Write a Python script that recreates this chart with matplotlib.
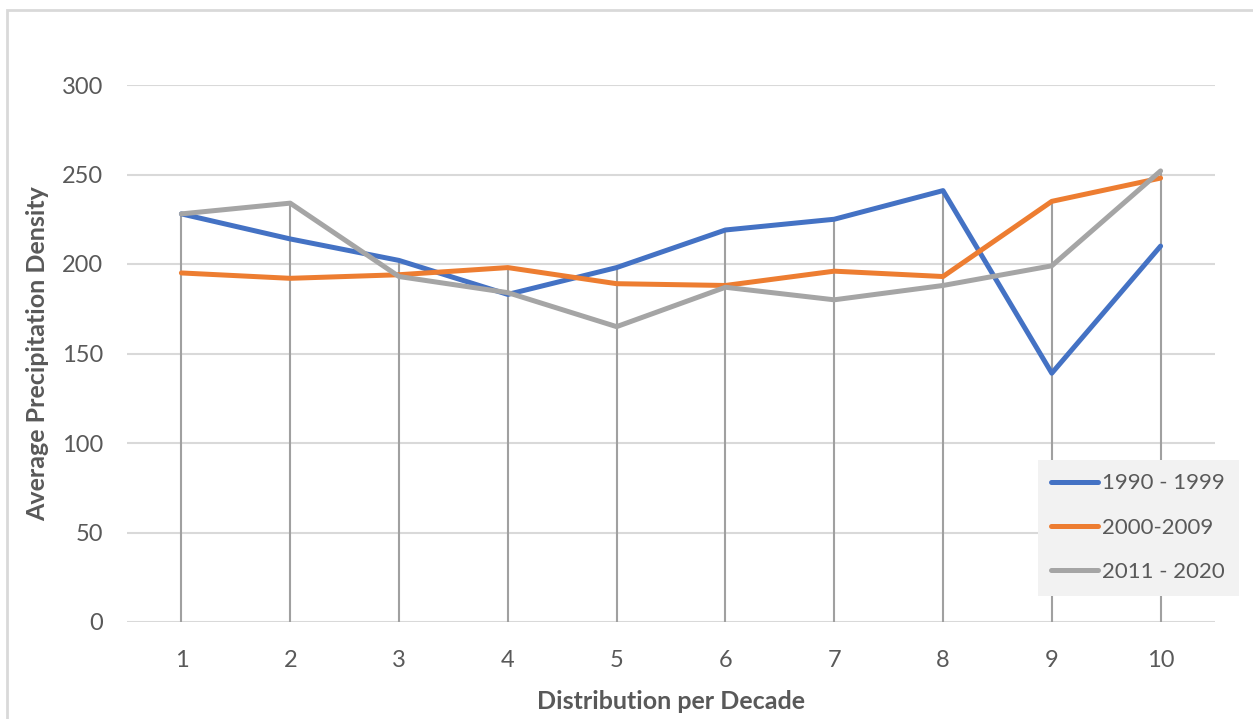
import numpy as np
import matplotlib
matplotlib.use("Agg")
import matplotlib.pyplot as plt
from matplotlib.patches import Rectangle

#---------------- data ----------------
cats = [1, 2, 3, 4, 5, 6, 7, 8, 9, 10]
s1990 = [228, 214, 202, 183, 198, 219, 225, 241, 139, 210]
s2000 = [195, 192, 194, 198, 189, 188, 196, 193, 235, 248]
s2011 = [228, 234, 193, 184, 165, 187, 180, 188, 199, 252]
names = ["1990 - 1999", "2000-2009", "2011 - 2020"]
colors = ["#4472C4", "#ED7D31", "#A5A5A5"]
yticks = [0, 50, 100, 150, 200, 250, 300]

plt.rcParams['font.family'] = ['Lato', 'DejaVu Sans']
txt = "#595959"

fig = plt.figure(figsize=(12.53, 7.19), dpi=100)
ax = fig.add_axes([127/1253, 1-622/719, (1215-127)/1253, (622-85)/719])

# chart border
fig.patches.append(Rectangle((7/1253, -0.1), 1.2, 1-10/719+0.1, transform=fig.transFigure,
                             fill=False, ec="#D9D9D9", lw=2))

x = np.array(cats)
allv = np.vstack([s1990, s2000, s2011])
# drop lines from the highest value down to the axis
ax.vlines(x, 0, allv.max(axis=0), color="#A0A0A0", lw=1.5, zorder=2)

for vals, nm, c in zip([s1990, s2000, s2011], names, colors):
    ax.plot(x, vals, color=c, lw=3.6, label=nm, solid_capstyle='round',
            solid_joinstyle='round', zorder=3)

ax.set_xlim(0.5, 10.5)
ax.set_ylim(0, 300)
ax.set_xticks(x)
ax.set_yticks(yticks)
ax.tick_params(length=0, labelsize=17, colors=txt)
ax.tick_params(axis='x', pad=20)
ax.tick_params(axis='y', pad=17)
ax.grid(axis='y', color="#D9D9D9", lw=1.5, zorder=0)
ax.set_axisbelow(True)
for sp in ax.spines.values():
    sp.set_visible(False)

ax.set_ylabel("Average Precipitation Density", fontsize=18, fontweight='bold', color=txt, labelpad=9)
ax.set_xlabel("Distribution per Decade", fontsize=18, fontweight='bold', color=txt, labelpad=14)

leg = fig.legend(loc='upper left', bbox_to_anchor=(1038/1253, 1-460/719), fontsize=16, frameon=True,
                 fancybox=False, facecolor="#F2F2F2", edgecolor="#F2F2F2", framealpha=1,
                 handlelength=2.1, labelspacing=1.1, borderpad=0.6, handletextpad=0.2,
                 borderaxespad=0)
leg.get_frame().set_linewidth(0)
for t in leg.get_texts():
    t.set_color(txt)

plt.savefig("out.png", dpi=100)
